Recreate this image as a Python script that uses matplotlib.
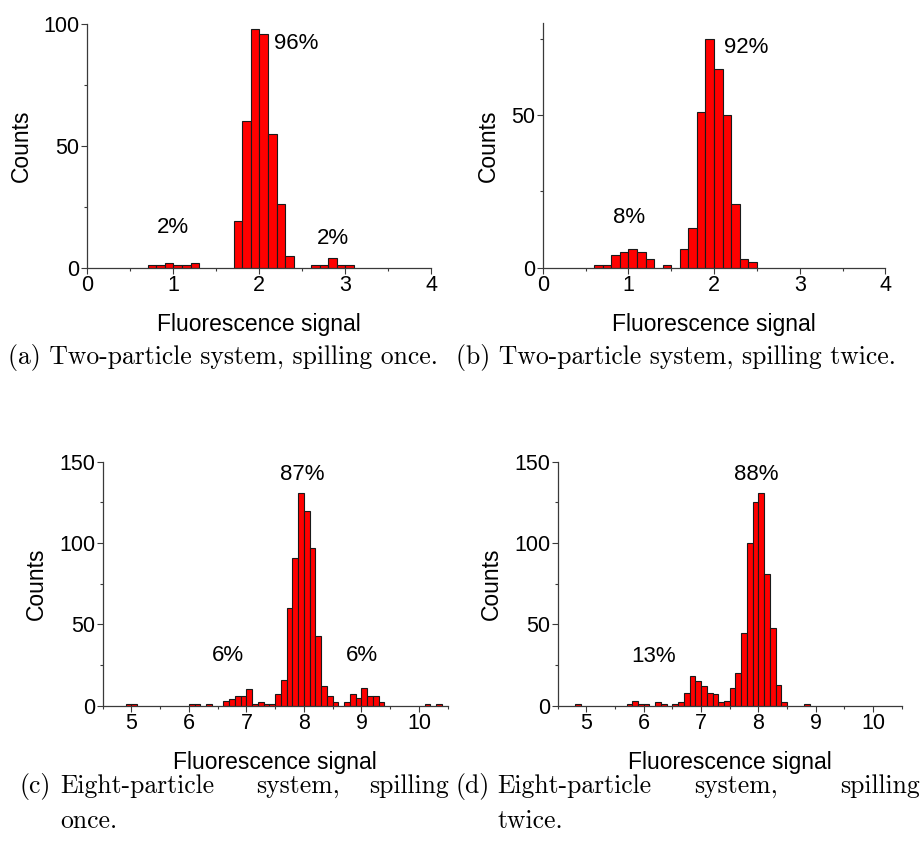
import matplotlib
matplotlib.use("Agg")
import matplotlib.pyplot as plt
from matplotlib.ticker import MultipleLocator

plt.rcParams['font.family'] = ['Liberation Sans', 'DejaVu Sans']

# ---- data (left bin edges, bin width 0.1) ----
a_edges = [0.7, 0.8, 0.9, 1.0, 1.1, 1.2,
           1.7, 1.8, 1.9, 2.0, 2.1, 2.2, 2.3,
           2.6, 2.7, 2.8, 2.9, 3.0]
a_counts = [1, 1, 2, 1, 1, 2,
            19, 60, 98, 96, 55, 26, 5,
            1, 1, 4, 1, 1]

b_edges = [0.6, 0.7, 0.8, 0.9, 1.0, 1.1, 1.2, 1.4,
           1.6, 1.7, 1.8, 1.9, 2.0, 2.1, 2.2, 2.3, 2.4]
b_counts = [1, 1, 4, 5, 6, 5, 3, 1,
            6, 13, 51, 75, 65, 50, 21, 3, 2]

c_edges = [4.9, 5.0, 6.0, 6.1, 6.3,
           6.6, 6.7, 6.8, 6.9, 7.0, 7.1, 7.2, 7.3, 7.4,
           7.5, 7.6, 7.7, 7.8, 7.9, 8.0, 8.1, 8.2, 8.3, 8.4, 8.5,
           8.7, 8.8, 8.9, 9.0, 9.1, 9.2, 9.3,
           10.1, 10.3]
c_counts = [1, 1, 1, 1, 1,
            3, 4, 6, 6, 10, 1, 2, 1, 1,
            7, 16, 60, 91, 131, 120, 97, 43, 12, 6, 2,
            2, 7, 5, 11, 6, 6, 2,
            1, 1]

d_edges = [4.8, 5.7, 5.8, 5.9, 6.0, 6.2, 6.3,
           6.5, 6.6, 6.7, 6.8, 6.9, 7.0, 7.1, 7.2, 7.3, 7.4,
           7.5, 7.6, 7.7, 7.8, 7.9, 8.0, 8.1, 8.2, 8.3, 8.4,
           8.8]
d_counts = [1, 1, 3, 1, 1, 2, 1,
            1, 2, 8, 18, 15, 12, 8, 7, 2, 3,
            11, 20, 45, 100, 125, 131, 81, 48, 13, 2,
            1]

# percentage labels: (x, y, text)
a_notes = [(2.43, 92, "96%"), (0.99, 16.5, "2%"), (2.86, 12, "2%")]
b_notes = [(2.37, 72, "92%"), (1.01, 16.3, "8%")]
c_notes = [(7.97, 142, "87%"), (6.68, 31, "6%"), (9.01, 31, "6%")]
d_notes = [(7.97, 142, "88%"), (6.18, 30.5, "13%")]

W, H = 923, 844
fig = plt.figure(figsize=(W / 100, H / 100), dpi=100)


def make_axes(l, r, t, b):
    return fig.add_axes([l / W, 1 - b / H, (r - l) / W, (b - t) / H])


def draw_hist(ax, edges, counts, notes, xlim, ylim, xmaj, ymaj, ymin):
    ax.bar(edges, counts, width=0.1, align='edge', color='#ff0000',
           edgecolor='#1a1a1a', linewidth=0.8, zorder=2)
    ax.set_xlim(*xlim)
    ax.set_ylim(*ylim)
    ax.xaxis.set_major_locator(MultipleLocator(xmaj))
    ax.xaxis.set_minor_locator(MultipleLocator(xmaj / 2))
    ax.yaxis.set_major_locator(MultipleLocator(ymaj))
    ax.yaxis.set_minor_locator(MultipleLocator(ymin))
    for s in ['top', 'right']:
        ax.spines[s].set_visible(False)
    for s in ['left', 'bottom']:
        ax.spines[s].set_color('#3a3a3a')
        ax.spines[s].set_linewidth(0.9)
    ax.tick_params(which='major', direction='out', length=4, width=0.8,
                   color='#3a3a3a', labelsize=15.5, pad=1.5)
    ax.tick_params(which='minor', direction='out', length=2, width=0.8,
                   color='#3a3a3a')
    ax.set_xlabel("Fluorescence signal", fontsize=16.5, labelpad=12)
    ax.set_ylabel("Counts", fontsize=16.5, labelpad=8)
    for x, y, txt in notes:
        ax.text(x, y, txt, fontsize=16, ha='center', va='center')


ax_a = make_axes(87.3, 431.3, 24, 267.7)
draw_hist(ax_a, a_edges, a_counts, a_notes, (0, 4), (0, 100), 1, 50, 25)

ax_b = make_axes(542.7, 885.4, 23.3, 267.7)
draw_hist(ax_b, b_edges, b_counts, b_notes, (0, 4), (0, 80), 1, 50, 25)

ax_c = make_axes(102.7, 447.7, 461.7, 705.7)
draw_hist(ax_c, c_edges, c_counts, c_notes, (4.5, 10.5), (0, 150), 1, 50, 25)

ax_d = make_axes(557.7, 901.7, 461.7, 705.7)
draw_hist(ax_d, d_edges, d_counts, d_notes, (4.5, 10.5), (0, 150), 1, 50, 25)

# ---- captions ----
cap = dict(family='cmr10', fontsize=18.5, va='center')


def put(x, y, txt, ha='left'):
    fig.text(x / W, 1 - y / H, txt, ha=ha, **cap)


put(8, 357, "(a) Two-particle system, spilling once.")
put(456, 357, "(b) Two-particle system, spilling twice.")

put(20, 786, "(c)")
put(60, 786, "Eight-particle")
put(256, 786, "system,")
put(449, 786, "spilling", ha='right')
put(60, 821, "once.")

put(456, 786, "(d)")
put(497, 786, "Eight-particle")
put(694, 786, "system,")
put(920, 786, "spilling", ha='right')
put(497, 821, "twice.")

fig.savefig("out.png", dpi=100)
